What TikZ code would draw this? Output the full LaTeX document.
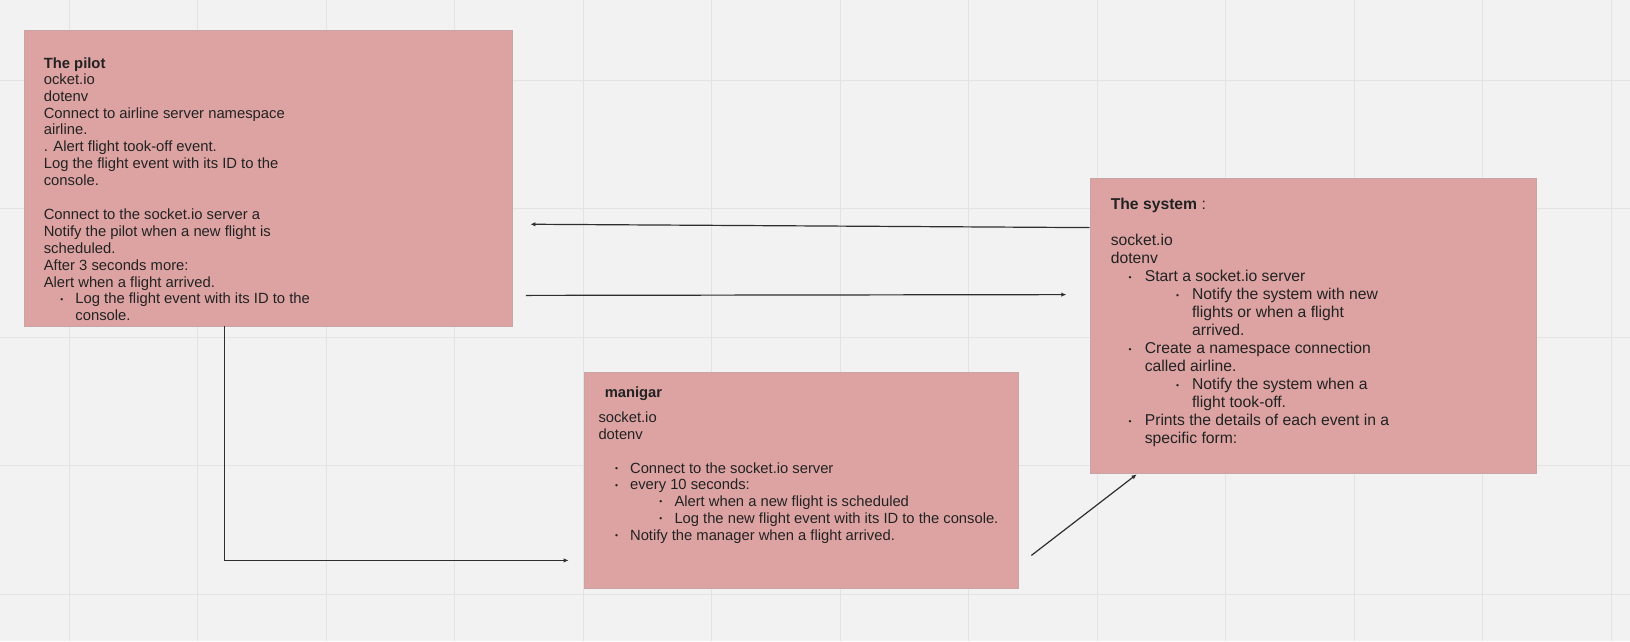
\documentclass[tikz,border=0pt]{standalone}
\usepackage{fontspec}
\setmainfont{Liberation Sans}
\usepackage{xcolor}
\usetikzlibrary{arrows.meta,positioning,calc}

\definecolor{canvas}{HTML}{F2F2F2}
\definecolor{gridgray}{HTML}{E3E3E3}
\definecolor{cardpink}{HTML}{DDA3A3}
\definecolor{cardedge}{HTML}{C8A4A4}
\definecolor{inkgray}{HTML}{222222}
\definecolor{linkgray}{HTML}{2E2E2E}

% empty space and list bullets
\newcommand{\ind}[1]{\makebox[#1]{}}
\newcommand{\bl}[2]{\makebox[#1]{}\makebox[0pt]{\raisebox{1.8pt}{\fontsize{8.5}{8.5}\selectfont\textbullet}}\makebox[\dimexpr#2-#1\relax]{}}

\begin{document}
\begin{tikzpicture}[x = 1pt, y = -1pt,
    card/.style = {draw = cardedge, fill = cardpink, line width = 0.8pt, inner sep = 0pt},
    txt/.style = {anchor = north west, inner sep = 0pt, align = left, text = inkgray},
    link/.style = {draw = linkgray, line width = 1.2pt, -{Latex[length=5pt,width=4.5pt]}},
    gridline/.style = {draw = gridgray, line width = 1pt}]
  \useasboundingbox (0,0) rectangle (1630,641);
  \fill[canvas] (0,0) rectangle (1630,641);
  \foreach \x in {0,...,12}
    \draw[gridline] ({69+128.5*\x},0) -- ++(0,641);
  \foreach \y in {0,...,4}
    \draw[gridline] (0,{80+128.5*\y}) -- ++(1630,0);

  \node[card, minimum width = 487.5pt, minimum height = 295.5pt] (pilot) at (268.25,178.25) {};
  \node[card, minimum width = 446pt, minimum height = 295.5pt] (system) at (1313,325.75) {};
  \node[card, minimum width = 434pt, minimum height = 216.7pt] (manigar) at (801,480.35) {};

  % Texts
  \node[txt, font = \fontsize{14.8}{16.9}\selectfont] (pilot text) at ($(pilot.north west)+(19.5,27.2)$) {%
    \textbf{The pilot}\\[-0.9pt]
    ocket.io\\
    dotenv\\
    Connect to airline server namespace\\
    airline.\\
    . Alert flight took-off event.\\
    Log the flight event with its ID to the\\
    console.\\[16.9pt]
    Connect to the socket.io server a\\
    Notify the pilot when a new flight is\\
    scheduled.\\
    After 3 seconds more:\\
    Alert when a flight arrived.\\
    \bl{18pt}{31.6pt}Log the flight event with its ID to the\\
    \ind{31.6pt}console.};
  \node[txt, font = \fontsize{15.7}{18}\selectfont] (system text) at ($(system.north west)+(21,20.8)$) {%
    \textbf{The system} :\\[18pt]
    socket.io\\
    dotenv\\
    \bl{19.3pt}{34pt}Start a socket.io server\\
    \bl{66.7pt}{81.3pt}Notify the system with new\\
    \ind{81.3pt}flights or when a flight\\
    \ind{81.3pt}arrived.\\
    \bl{19.3pt}{34pt}Create a namespace connection\\
    \ind{34pt}called airline.\\
    \bl{66.7pt}{81.3pt}Notify the system when a\\
    \ind{81.3pt}flight took-off.\\
    \bl{19.3pt}{34pt}Prints the details of each event in a\\
    \ind{34pt}specific form:};
  \node[txt, font = \fontsize{14.75}{16.8}\selectfont] (manigar text) at ($(manigar.north west)+(14.7,14.7)$) {%
    \ind{6.3pt}\textbf{manigar}\\[8.6pt]
    socket.io\\
    dotenv\\[16.8pt]
    \bl{18pt}{31.6pt}Connect to the socket.io server\\
    \bl{18pt}{31.6pt}every 10 seconds:\\
    \bl{62.3pt}{76pt}Alert when a new flight is scheduled\\
    \bl{62.3pt}{76pt}Log the new flight event with its ID to the console.\\
    \bl{18pt}{31.6pt}Notify the manager when a flight arrived.};

  % Connectors
  \coordinate (system out) at ($(system.north west)+(0,50)$);
  \coordinate (pilot in) at ($(pilot.east)+(18,46)$);
  \coordinate (pilot out) at ($(pilot.south east)+(13.5,-31)$);
  \coordinate (system in) at ($(system.north west)+(-23.3,117)$);
  \coordinate (manigar in) at ($(manigar.south west)+(-15,-28.7)$);
  \coordinate (manigar out) at ($(manigar.south east)+(13,-33.7)$);
  \draw[link] (system out) -- (pilot in);
  \draw[link] (pilot out) -- (system in);
  \draw[link] ($(pilot.south west)+(200.2,0)$) |- (manigar in);
  \draw[link] (manigar out) -- ($(system.south west)+(47,0.5)$);
\end{tikzpicture}
\end{document}
